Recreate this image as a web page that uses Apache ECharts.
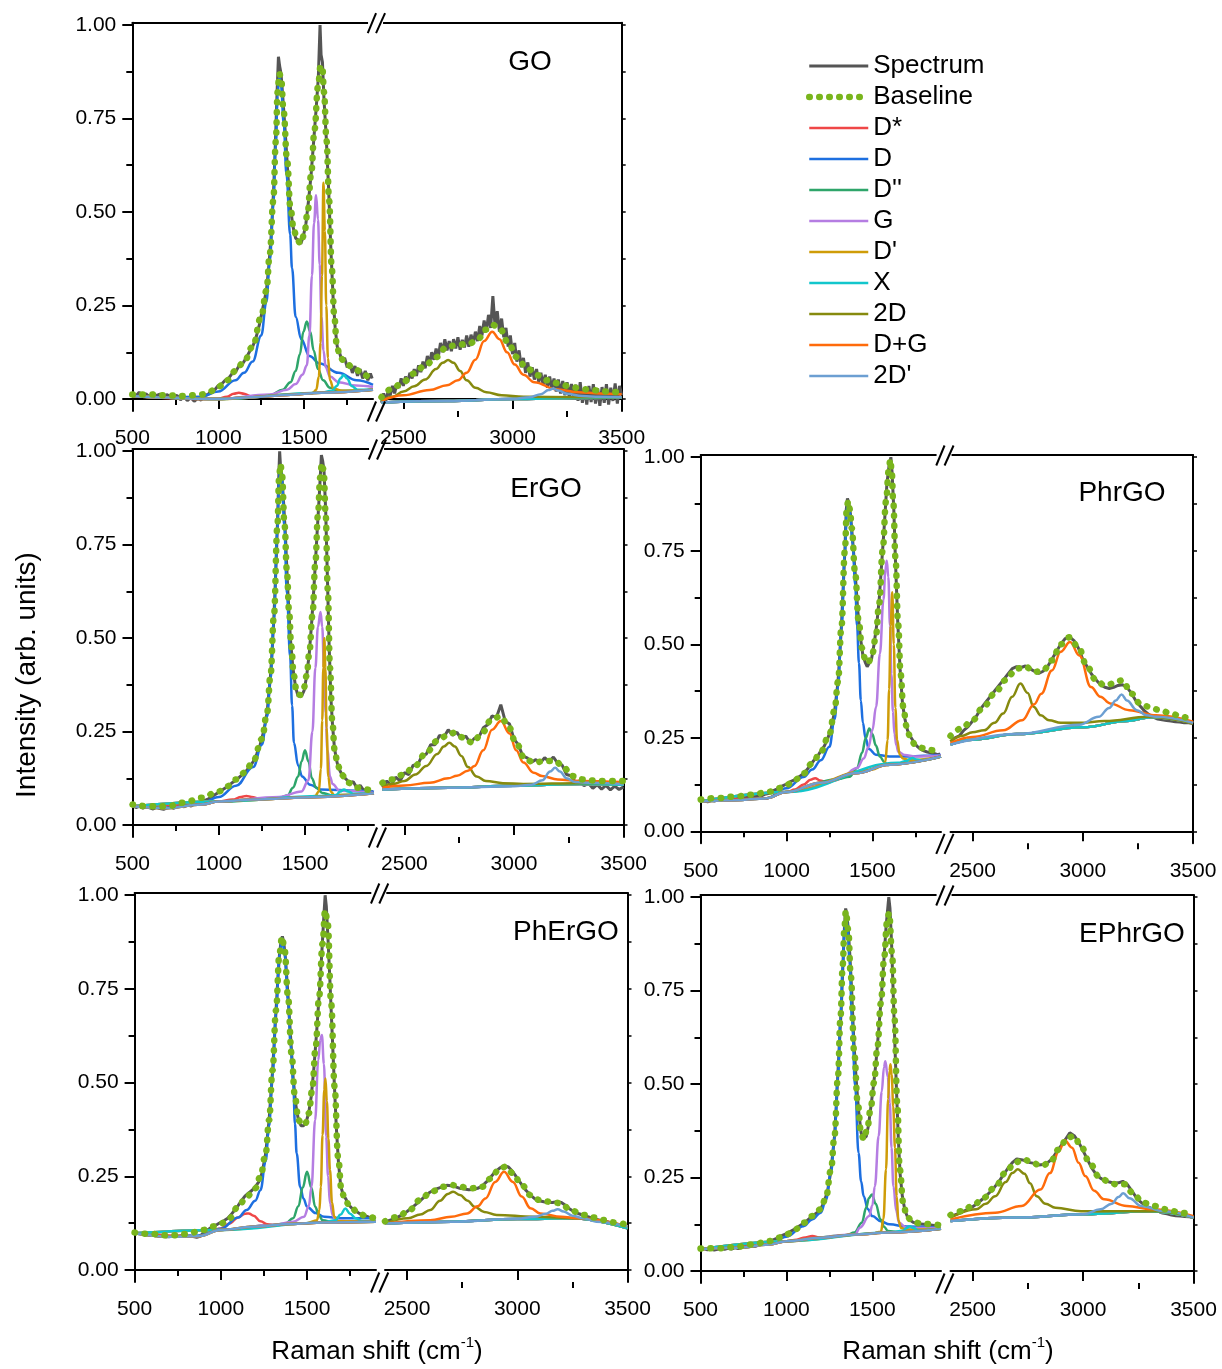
<!DOCTYPE html>
<html><head><meta charset="utf-8">
<script src="https://cdn.jsdelivr.net/npm/echarts@6/dist/echarts.min.js"></script>
<style>html,body{margin:0;padding:0;background:#fff}#c{width:1222px;height:1369px}</style>
</head><body><div id="c"></div>
<script>
// ---------------- tick labels / categories ----------------
const SERIES_NAMES = ['Spectrum','Baseline','D*','D',"D''",'G',"D'",'X','2D','D+G',"2D'"];
const PANEL_NAMES = ['GO','ErGO','PhrGO','PhErGO','EPhrGO'];
const X_MAJOR_LEFT = [500,1000,1500];
const X_MINOR_LEFT = [750,1250,1750];
const X_MAJOR_RIGHT = [2500,3000,3500];
const X_MINOR_RIGHT = [2750,3250];
const Y_MAJOR = [0,0.25,0.5,0.75,1];
const Y_MINOR = [0.125,0.375,0.625,0.875];
const Y_ALL = [0,0.125,0.25,0.375,0.5,0.625,0.75,0.875,1];
const X_RANGE_LEFT = [500,1900];
const X_RANGE_RIGHT = [2400,3500];
const Y_RANGE = [-0.032,1.006];

// ---------------- GO ----------------
const GO_spectrumL = [[500,.015],[520,.008],[540,.018],[560,.01],[580,.014],[600,.006],[620,.016],[640,.009],[660,.013],[680,.004],[700,.012],[720,.007],[740,.003],[760,.01],[780,-.002],[800,.006],[820,-.004],[840,.004],[860,-.006],[880,.002],[900,-.003],[920,.01],[940,.012],[960,.022],[980,.025],[1000,.036],[1020,.04],[1040,.05],[1060,.055],[1080,.068],[1100,.072],[1120,.088],[1140,.093],[1160,.108],[1180,.125],[1200,.14],[1220,.165],[1240,.2],[1260,.245],[1280,.29],[1295,.36],[1310,.45],[1322,.56],[1332,.68],[1342,.82],[1350,.915],[1357,.89],[1365,.87],[1375,.81],[1390,.71],[1405,.6],[1420,.51],[1435,.46],[1450,.43],[1465,.425],[1480,.415],[1495,.435],[1510,.47],[1525,.53],[1540,.6],[1555,.69],[1570,.78],[1582,.86],[1592,1.0],[1598,.92],[1606,.9],[1615,.8],[1628,.7],[1642,.56],[1655,.4],[1668,.27],[1680,.19],[1692,.14],[1705,.125],[1720,.1],[1735,.11],[1750,.085],[1765,.095],[1780,.07],[1795,.088],[1810,.062],[1825,.08],[1840,.055],[1855,.075],[1870,.05],[1885,.068],[1895,.055]];
const GO_spectrumR = [-.010,.015,-.005,.020,.010,.035,.015,.040,.030,.055,
 .035,.060,.045,.070,.055,.080,.062,.090,.072,.100,
 .082,.115,.095,.125,.105,.135,.112,.150,.125,.160,
 .130,.155,.128,.160,.135,.165,.132,.158,.138,.170,
 .140,.172,.148,.180,.155,.195,.170,.210,.180,.225,
 .190,.275,.195,.235,.180,.215,.165,.190,.140,.170,
 .120,.150,.100,.130,.085,.110,.070,.098,.060,.085,
 .052,.080,.045,.070,.038,.065,.030,.060,.028,.055,
 .020,.052,.015,.048,.010,.045,.005,.040,.000,.038,
 -.005,.045,-.010,.030,-.015,.035,-.008,.040,-.012,.028,
 -.018,.032,-.010,.040,-.015,.030,-.005,.042,-.012,.035,
 .010];
const GO_fitL = [[500,.012],[600,.012],[700,.01],[800,.008],[900,.012],[950,.02],[1000,.033],[1050,.05],[1100,.075],[1150,.1],[1200,.14],[1250,.22],[1280,.29],[1300,.39],[1320,.53],[1335,.69],[1345,.82],[1355,.87],[1365,.86],[1380,.77],[1400,.64],[1420,.51],[1440,.45],[1460,.425],[1480,.415],[1500,.44],[1520,.5],[1540,.6],[1560,.72],[1580,.835],[1595,.89],[1605,.89],[1615,.82],[1630,.69],[1645,.53],[1660,.35],[1675,.22],[1690,.14],[1710,.11],[1740,.095],[1800,.078],[1850,.064],[1895,.05]];
const GO_fitR = [[2400,.005],[2450,.028],[2500,.046],[2550,.068],[2600,.09],[2650,.112],[2700,.14],[2750,.145],[2800,.148],[2840,.158],[2875,.185],[2910,.198],[2945,.185],[2980,.15],[3020,.112],[3060,.086],[3110,.064],[3160,.05],[3210,.042],[3260,.034],[3310,.028],[3360,.024],[3430,.02],[3500,.017]];
const GO_bgL = [[500,.008],[700,.004],[900,0],[1000,0],[1200,.005],[1400,.011],[1600,.017],[1900,.025]];
const GO_bgR = [[2400,-.009],[2700,-.005],[3000,0],[3300,.003],[3500,.004]];
const GO_Dstar = [[500,.008],[900,0],[1000,.001],[1050,.006],[1090,.014],[1120,.017],[1150,.014],[1190,.007],[1250,.006],[1400,.011],[1600,.017],[1900,.025]];
const GO_D = [[500,.009],[700,.005],[900,.006],[1000,.02],[1100,.05],[1150,.07],[1200,.1],[1250,.17],[1280,.26],[1300,.37],[1320,.52],[1335,.68],[1345,.81],[1355,.865],[1365,.84],[1380,.74],[1397,.6],[1418,.44],[1429,.35],[1450,.22],[1483,.16],[1530,.115],[1590,.095],[1700,.07],[1805,.05],[1900,.038]];
const GO_D2 = [[500,.008],[1000,0],[1300,.01],[1375,.025],[1420,.045],[1450,.075],[1475,.12],[1495,.18],[1515,.207],[1535,.18],[1555,.13],[1580,.08],[1610,.05],[1650,.03],[1700,.022],[1900,.025]];
const GO_G = [[500,.008],[1000,0],[1300,.012],[1400,.025],[1450,.04],[1490,.065],[1515,.09],[1530,.17],[1545,.33],[1557,.47],[1569,.545],[1580,.48],[1590,.36],[1600,.22],[1612,.13],[1625,.085],[1650,.06],[1700,.045],[1800,.036],[1900,.032]];
const GO_Dp = [[500,.008],[1000,0],[1500,.014],[1550,.016],[1570,.025],[1585,.06],[1595,.15],[1603,.33],[1612,.578],[1620,.45],[1628,.25],[1638,.11],[1650,.05],[1670,.028],[1720,.022],[1900,.025]];
const GO_X = [[500,.008],[1000,0],[1600,.017],[1660,.022],[1690,.035],[1710,.055],[1730,.064],[1750,.055],[1775,.035],[1810,.025],[1900,.025]];
const GO_2D = [[2400,-.004],[2450,.006],[2500,.02],[2550,.034],[2600,.052],[2650,.08],[2680,.097],[2705,.104],[2730,.097],[2760,.075],[2790,.05],[2830,.03],[2880,.018],[2950,.01],[3050,.006],[3300,.005],[3500,.005]];
const GO_DG = [[2400,-.005],[2500,.01],[2620,.024],[2700,.037],[2750,.05],[2790,.07],[2830,.105],[2870,.155],[2907,.18],[2940,.16],[2975,.125],[3010,.092],[3050,.065],[3100,.045],[3200,.026],[3300,.018],[3400,.015],[3500,.013]];
const GO_2Dp = [[2400,-.009],[2700,-.005],[3000,0],[3080,.005],[3130,.013],[3165,.024],[3186,.028],[3210,.023],[3250,.014],[3320,.008],[3400,.006],[3500,.005]];

// ---------------- ErGO ----------------
const ErGO_spectrumL = [[500,.052],[520,.047],[540,.05],[560,.045],[580,.049],[600,.046],[620,.043],[640,.047],[660,.044],[680,.042],[700,.046],[720,.048],[740,.045],[760,.05],[780,.052],[800,.049],[820,.054],[840,.051],[860,.057],[880,.055],[900,.061],[920,.066],[940,.07],[960,.075],[980,.082],[1000,.088],[1020,.094],[1040,.1],[1060,.106],[1080,.114],[1100,.12],[1120,.128],[1140,.136],[1160,.145],[1180,.156],[1200,.17],[1220,.19],[1240,.215],[1260,.25],[1280,.3],[1300,.4],[1310,.47],[1320,.56],[1330,.67],[1340,.8],[1348,.93],[1353,1.0],[1358,.96],[1365,.94],[1375,.87],[1385,.79],[1400,.63],[1415,.5],[1430,.42],[1445,.37],[1460,.345],[1470,.34],[1480,.345],[1495,.36],[1510,.4],[1525,.46],[1540,.55],[1555,.66],[1570,.78],[1585,.9],[1595,.99],[1602,.975],[1610,.95],[1620,.84],[1630,.66],[1640,.48],[1650,.34],[1660,.265],[1670,.21],[1680,.18],[1690,.16],[1700,.148],[1720,.13],[1740,.122],[1760,.112],[1780,.116],[1800,.1],[1820,.106],[1840,.093],[1860,.097],[1880,.088],[1895,.09]];
const ErGO_spectrumR = [.100,.118,.106,.128,.118,.140,.135,.160,.160,.185,
 .190,.215,.215,.240,.235,.255,.240,.248,.230,.238,
 .220,.232,.235,.260,.268,.292,.288,.322,.278,.270,
 .230,.215,.185,.180,.168,.175,.166,.180,.170,.182,
 .165,.160,.135,.132,.115,.118,.105,.112,.098,.108,
 .096,.106,.094,.104,.095,.102];
const ErGO_fitL = [[500,.055],[600,.05],[700,.05],[800,.06],[900,.073],[1000,.09],[1050,.104],[1100,.122],[1150,.14],[1200,.171],[1250,.23],[1280,.3],[1300,.4],[1320,.56],[1340,.8],[1350,.93],[1358,.965],[1366,.94],[1382,.8],[1395,.68],[1408,.57],[1420,.48],[1435,.4],[1452,.355],[1472,.348],[1492,.365],[1510,.4],[1525,.46],[1543,.56],[1560,.7],[1575,.83],[1588,.93],[1598,.968],[1608,.95],[1620,.83],[1632,.63],[1645,.42],[1658,.28],[1672,.2],[1690,.16],[1710,.135],[1750,.113],[1800,.1],[1895,.09]];
const ErGO_fitR = [[2400,.113],[2445,.122],[2497,.135],[2548,.158],[2599,.193],[2650,.225],[2701,.242],[2727,.247],[2770,.234],[2812,.22],[2855,.247],[2898,.283],[2940,.291],[2974,.265],[3009,.22],[3051,.176],[3094,.167],[3137,.171],[3188,.171],[3222,.158],[3265,.131],[3316,.122],[3384,.118],[3500,.118]];
const ErGO_bgL = [[500,.05],[700,.045],[900,.055],[1000,.063],[1200,.068],[1500,.074],[1900,.085]];
const ErGO_bgR = [[2400,.095],[2700,.1],[3000,.105],[3300,.11],[3500,.108]];
const ErGO_Dstar = [[500,.05],[900,.055],[1000,.063],[1080,.068],[1130,.075],[1160,.078],[1190,.075],[1240,.07],[1500,.074],[1900,.085]];
const ErGO_D = [[500,.05],[700,.046],[900,.058],[1000,.075],[1100,.105],[1200,.155],[1250,.215],[1280,.29],[1300,.39],[1320,.55],[1340,.79],[1350,.93],[1358,.96],[1366,.93],[1380,.8],[1395,.62],[1414,.45],[1425,.32],[1436,.22],[1460,.16],[1483,.13],[1530,.108],[1590,.095],[1800,.092],[1900,.089]];
const ErGO_D2 = [[500,.05],[1000,.063],[1350,.072],[1400,.08],[1430,.1],[1460,.13],[1480,.17],[1500,.2],[1520,.17],[1540,.125],[1565,.1],[1600,.086],[1650,.08],[1900,.085]];
const ErGO_G = [[500,.05],[1000,.063],[1350,.075],[1480,.09],[1520,.12],[1543,.25],[1560,.42],[1575,.53],[1590,.57],[1600,.53],[1610,.42],[1620,.3],[1630,.2],[1645,.13],[1660,.11],[1700,.092],[1900,.086]];
const ErGO_Dp = [[500,.05],[1000,.063],[1500,.074],[1560,.078],[1580,.09],[1592,.15],[1600,.28],[1606,.42],[1612,.5],[1618,.42],[1625,.26],[1635,.13],[1648,.09],[1670,.08],[1900,.085]];
const ErGO_X = [[500,.05],[1000,.063],[1600,.078],[1680,.08],[1705,.09],[1726,.095],[1750,.09],[1780,.084],[1900,.085]];
const ErGO_2D = [[2400,.104],[2450,.11],[2500,.118],[2550,.135],[2600,.158],[2650,.19],[2680,.21],[2705,.22],[2730,.21],[2760,.185],[2790,.155],[2830,.13],[2872,.118],[2950,.112],[3043,.11],[3300,.112],[3500,.113]];
const ErGO_DG = [[2400,.1],[2500,.106],[2616,.113],[2700,.125],[2740,.132],[2790,.145],[2820,.158],[2860,.2],[2900,.255],[2940,.278],[2980,.245],[3010,.2],[3043,.167],[3090,.14],[3128,.131],[3200,.122],[3300,.118],[3500,.115]];
const ErGO_2Dp = [[2400,.095],[2700,.1],[3000,.104],[3080,.108],[3130,.12],[3165,.143],[3188,.153],[3210,.143],[3240,.125],[3280,.115],[3350,.113],[3500,.109]];

// ---------------- PhrGO ----------------
const PhrGO_spectrumL = [[500,.08],[520,.082],[540,.079],[560,.083],[580,.081],[600,.085],[620,.083],[640,.086],[660,.084],[680,.088],[700,.086],[720,.09],[740,.088],[760,.092],[780,.09],[800,.094],[820,.093],[840,.097],[860,.096],[880,.1],[900,.102],[920,.108],[940,.112],[960,.118],[980,.122],[1000,.126],[1020,.132],[1040,.136],[1060,.142],[1080,.148],[1100,.155],[1120,.165],[1140,.178],[1160,.19],[1180,.2],[1200,.215],[1220,.228],[1240,.248],[1260,.275],[1280,.32],[1300,.4],[1310,.47],[1320,.55],[1330,.65],[1340,.75],[1348,.86],[1355,.89],[1362,.88],[1372,.85],[1385,.78],[1400,.69],[1415,.59],[1430,.52],[1445,.47],[1460,.45],[1470,.44],[1480,.445],[1495,.46],[1510,.5],[1525,.55],[1540,.62],[1555,.72],[1570,.82],[1585,.93],[1598,.98],[1608,1.0],[1615,.96],[1625,.86],[1635,.72],[1648,.56],[1662,.43],[1676,.34],[1690,.3],[1705,.27],[1720,.255],[1740,.24],[1760,.228],[1780,.22],[1800,.215],[1820,.212],[1840,.21],[1860,.208],[1880,.205],[1895,.207]];
const PhrGO_spectrumR = [.240,.250,.255,.270,.280,.295,.310,.330,.345,.360,
 .375,.390,.405,.420,.435,.440,.438,.442,.435,.428,
 .422,.428,.440,.460,.480,.500,.515,.520,.510,.490,
 .460,.440,.420,.405,.392,.385,.382,.385,.390,.392,
 .385,.370,.350,.335,.322,.312,.305,.300,.298,.296,
 .295,.293,.292,.290,.290,.288];
const PhrGO_fitL = [[500,.085],[600,.089],[700,.093],[800,.098],[900,.106],[950,.115],[1000,.124],[1050,.138],[1100,.155],[1150,.182],[1200,.213],[1250,.26],[1280,.324],[1300,.4],[1320,.546],[1340,.75],[1352,.87],[1360,.883],[1370,.86],[1380,.81],[1400,.69],[1420,.563],[1440,.49],[1460,.457],[1475,.45],[1500,.475],[1520,.52],[1540,.61],[1560,.75],[1580,.883],[1595,.963],[1605,.994],[1613,.96],[1622,.88],[1635,.73],[1650,.555],[1665,.42],[1680,.333],[1700,.28],[1720,.253],[1750,.231],[1800,.222],[1850,.217],[1895,.213]];
const PhrGO_fitR = [[2400,.255],[2450,.275],[2500,.297],[2550,.333],[2600,.368],[2650,.404],[2700,.435],[2740,.44],[2780,.426],[2820,.43],[2860,.457],[2900,.5],[2940,.519],[2980,.492],[3020,.44],[3060,.404],[3100,.39],[3140,.395],[3180,.404],[3220,.368],[3260,.342],[3300,.333],[3350,.324],[3400,.315],[3450,.306],[3500,.297]];
const PhrGO_bgL = [[500,.08],[700,.083],[880,.088],[1000,.105],[1200,.13],[1400,.155],[1600,.178],[1900,.2]];
const PhrGO_bgR = [[2400,.232],[2500,.245],[2700,.26],[3000,.278],[3200,.295],[3310,.305],[3500,.29]];
const PhrGO_Dstar = [[500,.08],[880,.088],[1000,.105],[1050,.112],[1100,.125],[1140,.138],[1167,.142],[1195,.136],[1230,.132],[1260,.135],[1400,.155],[1600,.178],[1900,.2]];
const PhrGO_D = [[500,.08],[700,.083],[880,.088],[1000,.115],[1100,.145],[1150,.165],[1200,.19],[1250,.226],[1280,.3],[1300,.385],[1320,.54],[1340,.745],[1352,.865],[1360,.875],[1370,.85],[1385,.77],[1400,.66],[1411,.55],[1422,.45],[1433,.35],[1445,.29],[1460,.25],[1480,.22],[1520,.205],[1600,.2],[1700,.2],[1800,.202],[1900,.204]];
const PhrGO_D2 = [[500,.08],[1000,.105],[1300,.14],[1367,.146],[1411,.169],[1440,.21],[1462,.25],[1482,.275],[1500,.26],[1520,.23],[1544,.2],[1570,.185],[1589,.177],[1620,.18],[1900,.2]];
const PhrGO_G = [[500,.08],[1000,.105],[1233,.129],[1322,.146],[1411,.169],[1450,.195],[1478,.226],[1500,.27],[1522,.333],[1544,.475],[1565,.62],[1576,.7],[1584,.723],[1593,.68],[1603,.55],[1611,.42],[1620,.32],[1629,.26],[1640,.23],[1651,.213],[1689,.204],[1750,.2],[1900,.203]];
const PhrGO_Dp = [[500,.08],[1000,.105],[1500,.165],[1560,.175],[1575,.185],[1589,.244],[1598,.38],[1607,.55],[1616,.639],[1625,.5],[1634,.33],[1644,.244],[1660,.205],[1678,.195],[1720,.19],[1900,.2]];
const PhrGO_X = [[500,.08],[1000,.105],[1650,.183],[1700,.188],[1720,.194],[1733,.196],[1750,.193],[1780,.19],[1900,.2]];
const PhrGO_2D = [[2400,.24],[2450,.255],[2500,.265],[2552,.27],[2600,.29],[2639,.315],[2680,.36],[2717,.395],[2750,.37],[2777,.333],[2810,.31],[2847,.297],[2900,.29],[2985,.29],[3100,.295],[3297,.306],[3500,.288]];
const PhrGO_DG = [[2400,.236],[2500,.252],[2639,.27],[2725,.297],[2780,.34],[2812,.368],[2860,.43],[2900,.48],[2942,.506],[2985,.47],[3037,.386],[3080,.36],[3124,.342],[3211,.324],[3332,.31],[3500,.293]];
const PhrGO_2Dp = [[2400,.232],[2700,.26],[2985,.285],[3072,.306],[3120,.33],[3150,.35],[3176,.366],[3200,.35],[3245,.324],[3290,.31],[3332,.306],[3500,.29]];

// ---------------- PhErGO ----------------
const PhErGO_spectrumL = [[500,.1],[520,.098],[540,.097],[560,.095],[580,.094],[600,.093],[620,.092],[640,.091],[660,.09],[680,.089],[700,.089],[720,.09],[740,.09],[760,.091],[780,.092],[800,.09],[820,.091],[840,.089],[860,.087],[880,.09],[900,.1],[920,.106],[940,.112],[960,.118],[980,.122],[1000,.127],[1020,.132],[1040,.138],[1060,.148],[1080,.16],[1100,.172],[1120,.185],[1140,.197],[1160,.205],[1180,.212],[1200,.222],[1220,.235],[1240,.26],[1260,.31],[1280,.4],[1300,.53],[1310,.61],[1320,.69],[1330,.77],[1340,.84],[1350,.88],[1357,.89],[1365,.875],[1375,.83],[1390,.73],[1405,.62],[1420,.51],[1435,.44],[1450,.4],[1465,.385],[1480,.385],[1495,.395],[1510,.42],[1525,.465],[1540,.54],[1555,.63],[1570,.73],[1585,.84],[1597,.94],[1605,1.0],[1612,.97],[1622,.88],[1632,.78],[1645,.64],[1658,.5],[1670,.38],[1682,.29],[1695,.225],[1710,.2],[1725,.19],[1740,.175],[1760,.165],[1780,.158],[1800,.152],[1820,.148],[1840,.144],[1860,.141],[1880,.139],[1895,.138]];
const PhErGO_spectrumR = [.128,.132,.136,.142,.148,.156,.165,.175,.185,.196,
 .206,.213,.218,.222,.226,.225,.222,.218,.216,.214,
 .215,.218,.224,.235,.248,.262,.272,.278,.275,.262,
 .245,.228,.212,.200,.190,.185,.182,.180,.180,.182,
 .180,.172,.162,.155,.150,.146,.142,.138,.135,.132,
 .130,.127,.124,.121,.118,.115];
const PhErGO_fitL = [[500,.1],[600,.096],[700,.092],[800,.096],[900,.107],[950,.116],[1000,.124],[1050,.138],[1100,.169],[1150,.196],[1200,.218],[1230,.25],[1260,.31],[1280,.4],[1300,.533],[1320,.693],[1340,.844],[1355,.889],[1370,.853],[1390,.729],[1410,.578],[1430,.462],[1450,.4],[1470,.387],[1490,.391],[1510,.418],[1530,.48],[1550,.596],[1570,.729],[1590,.871],[1605,.96],[1620,.924],[1640,.711],[1660,.489],[1680,.302],[1700,.213],[1720,.187],[1750,.169],[1800,.151],[1850,.142],[1895,.138]];
const PhErGO_fitR = [[2400,.13],[2460,.142],[2510,.16],[2560,.187],[2610,.209],[2660,.222],[2700,.227],[2740,.222],[2790,.218],[2840,.222],[2880,.244],[2920,.271],[2950,.276],[2980,.258],[3020,.227],[3060,.2],[3100,.187],[3150,.182],[3200,.178],[3240,.16],[3300,.147],[3350,.14],[3400,.133],[3450,.126],[3500,.12]];
const PhErGO_bgL = [[500,.098],[700,.089],[870,.09],[1000,.107],[1200,.116],[1400,.123],[1600,.127],[1900,.129]];
const PhErGO_bgR = [[2400,.124],[2700,.129],[3000,.136],[3250,.138],[3500,.111]];
const PhErGO_Dstar = [[500,.098],[870,.09],[1000,.111],[1050,.124],[1100,.14],[1140,.15],[1162,.151],[1190,.145],[1230,.13],[1270,.122],[1320,.12],[1400,.123],[1600,.127],[1900,.129]];
const PhErGO_D = [[500,.098],[700,.089],[870,.092],[1000,.11],[1100,.14],[1150,.16],[1200,.185],[1230,.213],[1260,.29],[1280,.385],[1300,.52],[1320,.685],[1340,.84],[1355,.885],[1370,.845],[1390,.72],[1405,.6],[1420,.5],[1430,.39],[1440,.311],[1460,.222],[1480,.19],[1500,.169],[1550,.152],[1600,.142],[1700,.138],[1900,.138]];
const PhErGO_D2 = [[500,.098],[1000,.107],[1300,.12],[1376,.124],[1419,.138],[1450,.17],[1475,.22],[1500,.262],[1525,.22],[1547,.169],[1570,.145],[1590,.133],[1650,.128],[1900,.129]];
const PhErGO_G = [[500,.098],[1000,.107],[1300,.12],[1419,.129],[1483,.142],[1510,.17],[1526,.222],[1547,.4],[1565,.56],[1577,.615],[1586,.627],[1598,.55],[1611,.356],[1622,.25],[1633,.178],[1650,.145],[1665,.133],[1750,.13],[1900,.13]];
const PhErGO_Dp = [[500,.098],[1000,.107],[1500,.125],[1558,.133],[1572,.16],[1580,.222],[1590,.36],[1600,.48],[1607,.511],[1615,.45],[1624,.35],[1633,.267],[1645,.18],[1658,.142],[1680,.13],[1900,.129]];
const PhErGO_X = [[500,.098],[1000,.107],[1600,.127],[1665,.133],[1695,.148],[1722,.164],[1750,.15],[1782,.138],[1820,.13],[1900,.129]];
const PhErGO_2D = [[2400,.124],[2505,.138],[2560,.148],[2605,.16],[2650,.185],[2685,.203],[2709,.209],[2740,.2],[2775,.185],[2806,.169],[2850,.155],[2906,.147],[3074,.142],[3274,.138],[3500,.116]];
const PhErGO_DG = [[2400,.124],[2605,.133],[2700,.142],[2773,.151],[2820,.17],[2856,.191],[2900,.235],[2940,.262],[2980,.235],[3020,.196],[3060,.165],[3104,.151],[3200,.142],[3274,.138],[3500,.117]];
const PhErGO_2Dp = [[2400,.124],[2700,.129],[3000,.137],[3080,.142],[3130,.15],[3160,.158],[3183,.162],[3210,.156],[3250,.145],[3300,.138],[3358,.129],[3500,.116]];

// ---------------- EPhrGO ----------------
const EPhrGO_spectrumL = [[500,.058],[520,.06],[540,.057],[560,.059],[580,.056],[600,.058],[620,.06],[640,.058],[660,.061],[680,.059],[700,.062],[720,.06],[740,.063],[760,.065],[780,.064],[800,.067],[820,.066],[840,.07],[860,.072],[880,.075],[900,.078],[920,.083],[940,.087],[960,.092],[980,.096],[1000,.1],[1020,.105],[1040,.11],[1060,.116],[1080,.122],[1100,.128],[1120,.135],[1140,.143],[1160,.15],[1180,.157],[1200,.166],[1220,.185],[1240,.215],[1260,.27],[1280,.36],[1290,.44],[1300,.53],[1310,.62],[1320,.71],[1330,.83],[1338,.92],[1345,.97],[1352,.955],[1360,.915],[1370,.84],[1380,.75],[1392,.62],[1405,.52],[1420,.43],[1435,.37],[1445,.352],[1455,.35],[1465,.36],[1478,.39],[1492,.44],[1508,.5],[1522,.56],[1538,.65],[1552,.73],[1566,.82],[1580,.92],[1590,.97],[1596,1.0],[1603,.97],[1612,.88],[1622,.74],[1632,.6],[1642,.47],[1652,.35],[1662,.26],[1675,.2],[1690,.162],[1705,.145],[1720,.136],[1740,.13],[1760,.127],[1780,.126],[1800,.125],[1820,.124],[1840,.123],[1860,.122],[1880,.121],[1895,.12]];
const EPhrGO_spectrumR = [.145,.150,.155,.160,.165,.172,.180,.190,.200,.212,
 .225,.240,.258,.275,.290,.300,.298,.295,.290,.288,
 .284,.285,.290,.300,.318,.335,.352,.370,.362,.345,
 .322,.298,.275,.258,.248,.242,.238,.235,.236,.240,
 .232,.215,.198,.185,.176,.170,.165,.160,.155,.153,
 .150,.148,.147,.146,.145,.144];
const EPhrGO_fitL = [[500,.06],[600,.061],[700,.064],[800,.071],[900,.08],[950,.089],[1000,.098],[1050,.111],[1100,.129],[1150,.147],[1200,.165],[1230,.196],[1260,.272],[1280,.361],[1300,.52],[1315,.68],[1328,.82],[1338,.92],[1346,.963],[1360,.914],[1375,.789],[1395,.584],[1415,.45],[1435,.37],[1450,.352],[1470,.379],[1490,.432],[1510,.504],[1530,.6],[1550,.717],[1570,.842],[1585,.931],[1598,.958],[1615,.851],[1630,.673],[1645,.45],[1660,.272],[1680,.183],[1700,.147],[1730,.134],[1780,.127],[1850,.125],[1895,.122]];
const EPhrGO_fitR = [[2400,.15],[2450,.16],[2500,.174],[2550,.196],[2600,.223],[2650,.263],[2690,.29],[2730,.299],[2770,.29],[2810,.281],[2850,.29],[2890,.325],[2930,.357],[2960,.361],[2990,.334],[3030,.29],[3070,.254],[3110,.241],[3150,.232],[3190,.232],[3230,.205],[3270,.183],[3320,.174],[3380,.165],[3440,.156],[3500,.152]];
const EPhrGO_bgL = [[500,.058],[700,.062],[900,.071],[1000,.08],[1200,.089],[1400,.098],[1600,.103],[1900,.113]];
const EPhrGO_bgR = [[2400,.134],[2700,.143],[3000,.152],[3300,.16],[3500,.143]];
const EPhrGO_Dstar = [[500,.058],[900,.071],[1000,.08],[1060,.084],[1110,.09],[1151,.094],[1190,.09],[1240,.09],[1300,.093],[1400,.098],[1600,.103],[1900,.113]];
const EPhrGO_D = [[500,.058],[700,.062],[900,.072],[1000,.092],[1100,.12],[1150,.138],[1200,.156],[1230,.19],[1260,.265],[1280,.355],[1300,.52],[1315,.675],[1328,.815],[1338,.915],[1346,.955],[1355,.93],[1368,.83],[1382,.67],[1400,.495],[1420,.316],[1435,.24],[1450,.2],[1475,.165],[1500,.147],[1550,.133],[1600,.125],[1700,.119],[1900,.116]];
const EPhrGO_D2 = [[500,.058],[1000,.08],[1350,.096],[1396,.103],[1439,.129],[1465,.17],[1480,.195],[1498,.205],[1520,.18],[1548,.138],[1570,.118],[1591,.107],[1650,.105],[1900,.113]];
const EPhrGO_G = [[500,.058],[1000,.08],[1400,.098],[1428,.116],[1482,.147],[1500,.175],[1515,.227],[1537,.361],[1555,.48],[1568,.545],[1576,.561],[1590,.52],[1602,.45],[1612,.33],[1623,.227],[1640,.16],[1656,.129],[1699,.116],[1900,.115]];
const EPhrGO_Dp = [[500,.058],[1000,.08],[1500,.1],[1550,.105],[1565,.14],[1580,.272],[1592,.46],[1600,.535],[1606,.553],[1613,.525],[1622,.44],[1632,.33],[1642,.2],[1652,.135],[1668,.115],[1700,.11],[1900,.113]];
const EPhrGO_X = [[500,.058],[1000,.08],[1600,.103],[1680,.108],[1700,.115],[1717,.12],[1740,.115],[1770,.109],[1900,.113]];
const EPhrGO_2D = [[2400,.143],[2516,.165],[2560,.18],[2602,.2],[2650,.238],[2680,.262],[2705,.272],[2735,.26],[2760,.235],[2790,.2],[2830,.18],[2875,.169],[2991,.16],[3332,.16],[3500,.143]];
const EPhrGO_DG = [[2400,.138],[2602,.156],[2722,.174],[2807,.218],[2850,.262],[2890,.32],[2917,.35],[2950,.33],[2980,.29],[3010,.254],[3050,.215],[3095,.192],[3198,.174],[3317,.165],[3500,.147]];
const EPhrGO_2Dp = [[2400,.134],[2700,.143],[3000,.152],[3079,.165],[3130,.18],[3160,.198],[3182,.208],[3210,.195],[3264,.174],[3366,.16],[3500,.143]];

// ---------------- styles & layout (not data) ----------------
const COLORS = {'Spectrum':'#555555','Baseline':'#79b51c','D*':'#ef4747','D':'#1d6fe0',"D''":'#2ea56a','G':'#b57de2',"D'":'#cf9c08','X':'#12c6cc','2D':'#868a0e','D+G':'#ff6b0b',"2D'":'#6c9fd2'};
const FONT = "'Liberation Sans', Arial, Helvetica, sans-serif";
const LAYOUT = [
  {L:132.3, BL:373, BR:381.5, R:621.7, T:22.7, B:411, lx:530, ly:62},
  {L:132.5, BL:374, BR:382.5, R:623.5, T:449, B:837, lx:546, ly:489},
  {L:700.7, BL:941, BR:950.5, R:1193, T:455, B:843.3, lx:1122, ly:493},
  {L:134.6, BL:376, BR:385, R:627.5, T:893, B:1282, lx:566, ly:932},
  {L:700.5, BL:941, BR:950.5, R:1193.5, T:895, B:1283, lx:1132, ly:934}
];

function stepPairs(x0, dx, ys) { return ys.map((y, i) => [x0 + i * dx, y]); }

const PANELS = [
  {specL: GO_spectrumL, specR: stepPairs(2400,10,GO_spectrumR), fitL: GO_fitL, fitR: GO_fitR, bgL: GO_bgL, bgR: GO_bgR,
   comps: {'D*':GO_Dstar,'D':GO_D,"D''":GO_D2,'G':GO_G,"D'":GO_Dp,'X':GO_X,'2D':GO_2D,'D+G':GO_DG,"2D'":GO_2Dp}},
  {specL: ErGO_spectrumL, specR: stepPairs(2400,20,ErGO_spectrumR), fitL: ErGO_fitL, fitR: ErGO_fitR, bgL: ErGO_bgL, bgR: ErGO_bgR,
   comps: {'D*':ErGO_Dstar,'D':ErGO_D,"D''":ErGO_D2,'G':ErGO_G,"D'":ErGO_Dp,'X':ErGO_X,'2D':ErGO_2D,'D+G':ErGO_DG,"2D'":ErGO_2Dp}},
  {specL: PhrGO_spectrumL, specR: stepPairs(2400,20,PhrGO_spectrumR), fitL: PhrGO_fitL, fitR: PhrGO_fitR, bgL: PhrGO_bgL, bgR: PhrGO_bgR,
   comps: {'D*':PhrGO_Dstar,'D':PhrGO_D,"D''":PhrGO_D2,'G':PhrGO_G,"D'":PhrGO_Dp,'X':PhrGO_X,'2D':PhrGO_2D,'D+G':PhrGO_DG,"2D'":PhrGO_2Dp}},
  {specL: PhErGO_spectrumL, specR: stepPairs(2400,20,PhErGO_spectrumR), fitL: PhErGO_fitL, fitR: PhErGO_fitR, bgL: PhErGO_bgL, bgR: PhErGO_bgR,
   comps: {'D*':PhErGO_Dstar,'D':PhErGO_D,"D''":PhErGO_D2,'G':PhErGO_G,"D'":PhErGO_Dp,'X':PhErGO_X,'2D':PhErGO_2D,'D+G':PhErGO_DG,"2D'":PhErGO_2Dp}},
  {specL: EPhrGO_spectrumL, specR: stepPairs(2400,20,EPhrGO_spectrumR), fitL: EPhrGO_fitL, fitR: EPhrGO_fitR, bgL: EPhrGO_bgL, bgR: EPhrGO_bgR,
   comps: {'D*':EPhrGO_Dstar,'D':EPhrGO_D,"D''":EPhrGO_D2,'G':EPhrGO_G,"D'":EPhrGO_Dp,'X':EPhrGO_X,'2D':EPhrGO_2D,'D+G':EPhrGO_DG,"2D'":EPhrGO_2Dp}}
];
const LEFT_COMPS = ['D*','D',"D''",'G',"D'",'X'];
const COMP_ORDER = ['D*','D',"D''",'G',"D'",'X','2D','D+G',"2D'"];

const AXLINE = {show:true, lineStyle:{color:'#000', width:2}};
const TICKLINE = {color:'#000', width:2};

function xMajor(g, range, vals) {
  return {gridIndex:g, type:'value', min:range[0], max:range[1], position:'bottom',
    axisLine:AXLINE, splitLine:{show:false},
    axisTick:{show:true, inside:false, length:10, customValues:vals, lineStyle:TICKLINE},
    axisLabel:{show:true, customValues:vals, margin:17, fontSize:21, fontFamily:FONT, color:'#000', formatter:v=>String(v)}};
}
function xMinor(g, range, vals) {
  return {gridIndex:g, type:'value', min:range[0], max:range[1], position:'bottom',
    axisLine:{show:false}, splitLine:{show:false},
    axisTick:{show:true, inside:false, length:6, customValues:vals, lineStyle:TICKLINE},
    axisLabel:{show:false}};
}
function xTop(g, range) {
  return {gridIndex:g, type:'value', min:range[0], max:range[1], position:'top',
    axisLine:AXLINE, splitLine:{show:false}, axisTick:{show:false}, axisLabel:{show:false}};
}
function yLeftMajor(g) {
  return {gridIndex:g, type:'value', min:Y_RANGE[0], max:Y_RANGE[1], position:'left',
    axisLine:AXLINE, splitLine:{show:false},
    axisTick:{show:true, inside:false, length:10, customValues:Y_MAJOR, lineStyle:TICKLINE},
    axisLabel:{show:true, customValues:Y_MAJOR, margin:16, fontSize:21, fontFamily:FONT, color:'#000', formatter:v=>v.toFixed(2)}};
}
function yLeftMinor(g) {
  return {gridIndex:g, type:'value', min:Y_RANGE[0], max:Y_RANGE[1], position:'left',
    axisLine:{show:false}, splitLine:{show:false},
    axisTick:{show:true, inside:false, length:6, customValues:Y_MINOR, lineStyle:TICKLINE},
    axisLabel:{show:false}};
}
function yRight(g) {
  return {gridIndex:g, type:'value', min:Y_RANGE[0], max:Y_RANGE[1], position:'right',
    axisLine:AXLINE, splitLine:{show:false},
    axisTick:{show:true, inside:false, length:4, customValues:Y_ALL, lineStyle:{color:'#000', width:1.5}},
    axisLabel:{show:false}};
}

function lineSeries(name, data, xi, yi, kind) {
  const s = {type:'line', name, data, xAxisIndex:xi, yAxisIndex:yi, showSymbol:false, symbol:'none',
    animation:false, silent:true, color:COLORS[name], clip:true};
  if (kind === 'spec') {
    s.lineStyle = {color:COLORS[name], width:3};
  } else if (kind === 'fit') {
    s.smooth = 0.4; s.smoothMonotone = 'x';
    s.lineStyle = {color:COLORS[name], width:6.5, type:[0.5, 9.5], cap:'round'};
  } else {
    s.smooth = 0.4; s.smoothMonotone = 'x';
    s.lineStyle = {color:COLORS[name], width:2.5};
  }
  return s;
}

const grid = [], xAxis = [], yAxis = [], series = [], graphic = [];

PANELS.forEach((p, i) => {
  const lay = LAYOUT[i];
  const gL = grid.length;
  grid.push({left:lay.L, top:lay.T, width:lay.BL - lay.L, height:lay.B - lay.T});
  const gR = grid.length;
  grid.push({left:lay.BR, top:lay.T, width:lay.R - lay.BR, height:lay.B - lay.T});
  const xL = xAxis.length;
  xAxis.push(xMajor(gL, X_RANGE_LEFT, X_MAJOR_LEFT), xMinor(gL, X_RANGE_LEFT, X_MINOR_LEFT), xTop(gL, X_RANGE_LEFT));
  const xR = xAxis.length;
  xAxis.push(xMajor(gR, X_RANGE_RIGHT, X_MAJOR_RIGHT), xMinor(gR, X_RANGE_RIGHT, X_MINOR_RIGHT), xTop(gR, X_RANGE_RIGHT));
  const yL = yAxis.length;
  yAxis.push(yLeftMajor(gL), yLeftMinor(gL));
  const yR = yAxis.length;
  yAxis.push(yRight(gR));

  series.push(lineSeries('Spectrum', p.specL, xL, yL, 'spec'));
  series.push(lineSeries('Spectrum', p.specR, xR, yR, 'spec'));
  COMP_ORDER.forEach(c => {
    const isLeft = LEFT_COMPS.indexOf(c) >= 0;
    series.push(lineSeries(c, isLeft ? p.comps[c] : p.bgL, xL, yL, 'comp'));
    series.push(lineSeries(c, isLeft ? p.bgR : p.comps[c], xR, yR, 'comp'));
  });
  series.push(lineSeries('Baseline', p.fitL, xL, yL, 'fit'));
  series.push(lineSeries('Baseline', p.fitR, xR, yR, 'fit'));

  graphic.push({type:'text', x:lay.lx, y:lay.ly, z:50, silent:true,
    style:{text:PANEL_NAMES[i], fontSize:28, fontFamily:FONT, fill:'#000', align:'center', verticalAlign:'middle'}});
  const c = (lay.BL + lay.BR) / 2;
  [lay.T, lay.B].forEach(y => {
    graphic.push({type:'rect', z:50, silent:true, shape:{x:c - 9.2, y:y - 3, width:15, height:6}, style:{fill:'#fff'}});
    graphic.push({type:'line', z:51, silent:true, shape:{x1:c - 9.5, y1:y + 10.5, x2:c - 1.2, y2:y - 9.5}, style:{stroke:'#000', lineWidth:2}});
    graphic.push({type:'line', z:51, silent:true, shape:{x1:c - 1.2, y1:y + 10.5, x2:c + 7.8, y2:y - 9.5}, style:{stroke:'#000', lineWidth:2}});
  });
});

graphic.push({type:'text', x:27, y:675, rotation:Math.PI / 2, z:50, silent:true,
  style:{text:'Intensity (arb. units)', fontSize:28, fontFamily:FONT, fill:'#000', align:'center', verticalAlign:'middle'}});
[377, 948].forEach(cx => {
  graphic.push({type:'text', x:cx, y:1350, z:50, silent:true,
    style:{text:'{a|Raman shift (cm}{s|-1}{a|)}', align:'center', verticalAlign:'middle',
      rich:{a:{fontSize:26, fontFamily:FONT, fill:'#000', lineHeight:30, verticalAlign:'bottom'},
            s:{fontSize:15, fontFamily:FONT, fill:'#000', lineHeight:30, verticalAlign:'top'}}}});
});

const chart = echarts.init(document.getElementById('c'), null, {renderer:'canvas'});
chart.setOption({
  animation:false,
  backgroundColor:'#fff',
  grid, xAxis, yAxis, series, graphic,
  legend:{show:true, orient:'vertical', left:806, top:52, padding:0, itemWidth:59, itemHeight:14, itemGap:3,
    selectedMode:false, data:SERIES_NAMES,
    itemStyle:{opacity:0},
    lineStyle:{width:'inherit', type:'inherit', cap:'inherit'},
    textStyle:{fontSize:26, fontFamily:FONT, color:'#000', lineHeight:28}}
});
</script></body></html>
